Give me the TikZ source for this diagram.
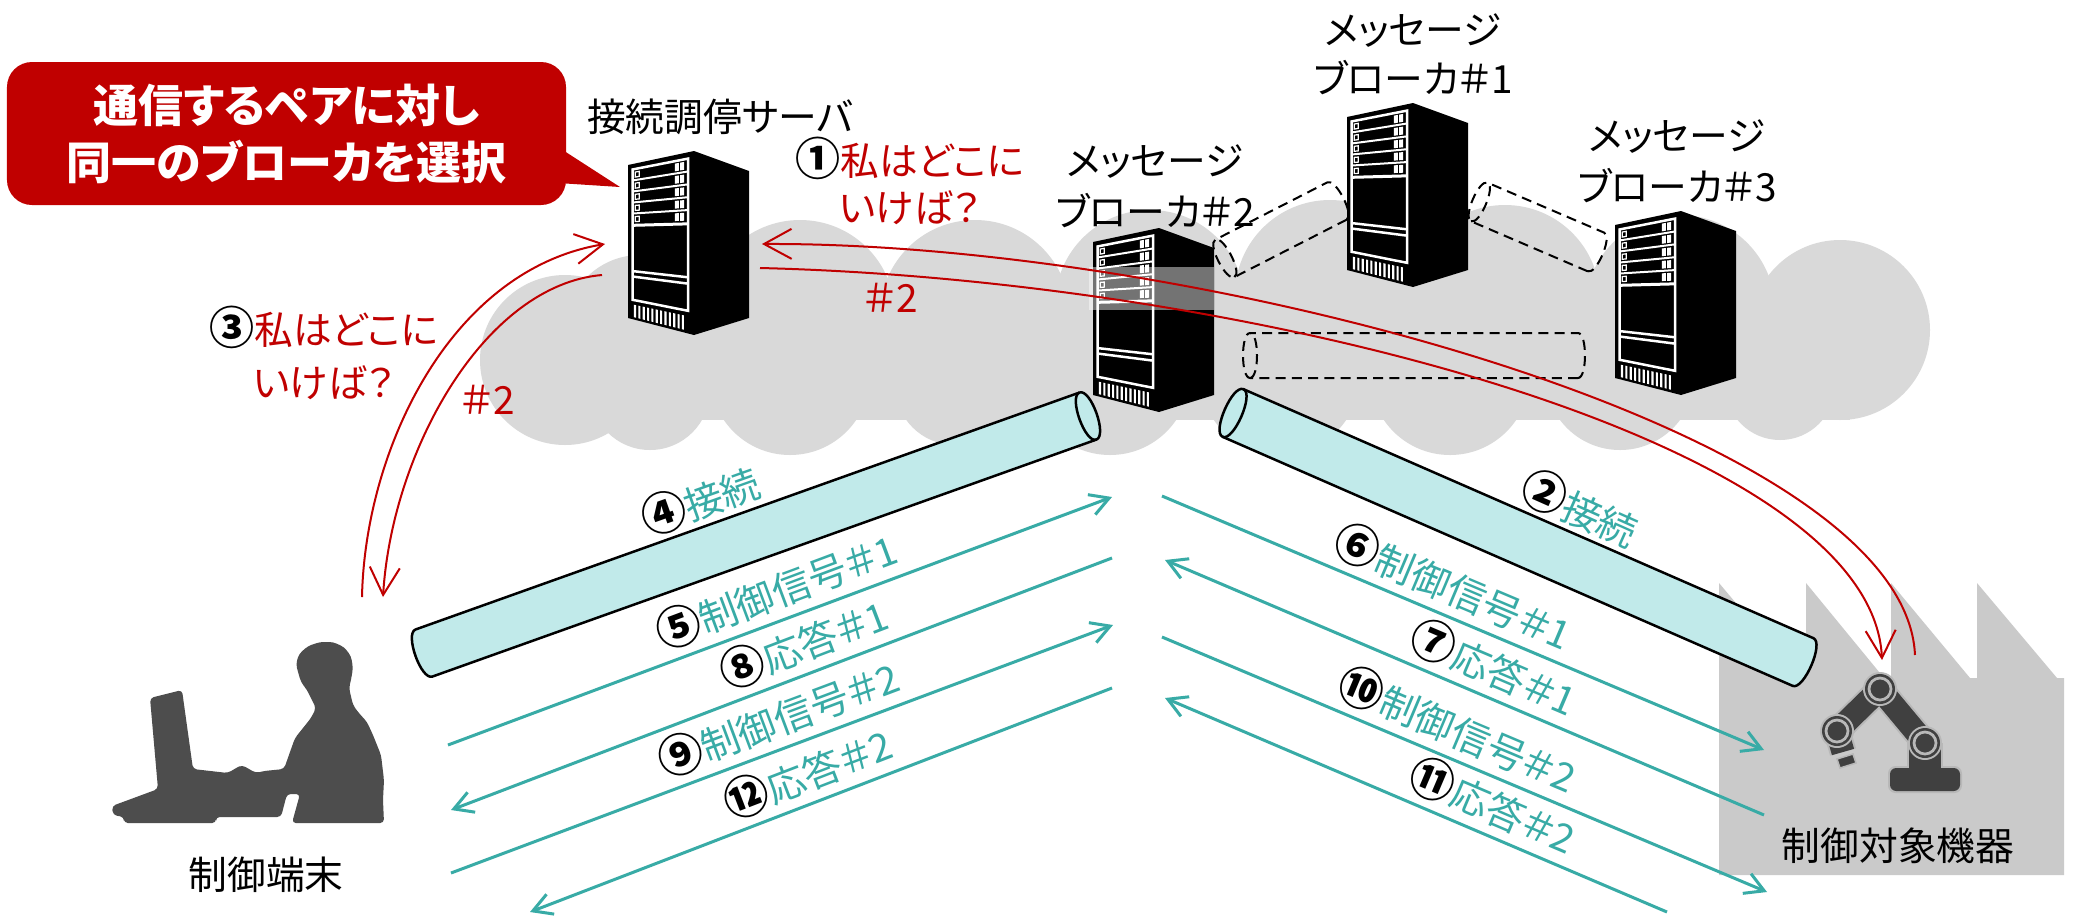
\documentclass[tikz,border=0pt]{standalone}
\usepackage{fontspec}
\setmainfont{Noto Sans CJK JP}[RawFeature=+palt]
\usetikzlibrary{arrows.meta,calc}

\definecolor{calloutred}{HTML}{C00000}
\definecolor{askred}{HTML}{C00000}
\definecolor{flowteal}{HTML}{38ABA6}
\definecolor{pipefill}{HTML}{C1EAEA}
\definecolor{cloudgray}{HTML}{D9D9D9}
\definecolor{plantgray}{HTML}{CACACA}
\definecolor{figuregray}{HTML}{4D4D4D}
\definecolor{robotdark}{HTML}{404040}
\definecolor{robotlight}{HTML}{B8B8B8}

% point on the (perspective) front panel of a rack: u across, v down
\newcommand\fp[2]{($($(ftl)!#2!(fbl)$)!#1!($(ftr)!#2!(fbr)$)$)}
\newcommand\fq[4]{\fp{#1}{#2} -- \fp{#3}{#2} -- \fp{#3}{#4} -- \fp{#1}{#4} -- cycle}
\newcommand\circno[1]{{\color{black}\bfseries\fontsize{18}{18}\selectfont #1}}

% rack server, given the top corner between front and side face
\newcommand\rackserver[2]{%
 \begin{scope}[shift={(#1,#2)}]
  \coordinate (ftl) at (-66,14);
  \coordinate (ftr) at (0,0);
  \coordinate (fbr) at (0,184);
  \coordinate (fbl) at (-66,167);
  \fill[black] (-66,14) -- (0,0) -- (55,20) -- (55,167) -- (0,184) -- (-66,167) -- cycle;
  \draw[white, line width=1pt] \fq{0.07}{0.035}{0.91}{0.875};
  \foreach \v in {0.106,0.177,0.248,0.319}{\draw[white, line width=0.8pt] \fp{0.07}{\v} -- \fp{0.91}{\v};}
  \draw[white, line width=1.2pt] \fp{0.07}{0.395} -- \fp{0.91}{0.395};
  \foreach \v in {0.035,0.106,0.177,0.248,0.319}{%
    \draw[white, line width=0.5pt] \fq{0.11}{\v+0.02}{0.17}{\v+0.052};
    \fill[white] \fq{0.71}{\v+0.014}{0.77}{\v+0.058};
    \fill[white] \fq{0.79}{\v+0.014}{0.85}{\v+0.058};
  }
  \draw[white, line width=1pt] \fp{0.07}{0.69} -- \fp{0.91}{0.69};
  \draw[white, line width=1pt] \fp{0.07}{0.725} -- \fp{0.91}{0.725};
  \foreach \i in {0,...,11}{\fill[white] \fq{0.09+0.066*\i}{0.905}{0.122+0.066*\i}{0.985};}
 \end{scope}}

% cylinder: start (x,y), angle, length, radius, cap radius; open end at the far side
\newcommand\pipe[6]{%
 \begin{scope}[shift={(#1,#2)},rotate=#3]
  \filldraw[pipe] (0,-#5) -- (#4,-#5) .. controls (#4+1.333*#6,-#5) and (#4+1.333*#6,#5) .. (#4,#5)
     -- (0,#5) .. controls (-1.333*#6,#5) and (-1.333*#6,-#5) .. (0,-#5) -- cycle;
  \draw[pipe, fill=none] (#4,-#5) .. controls (#4-1.333*#6,-#5) and (#4-1.333*#6,#5) .. (#4,#5);
 \end{scope}}

\newcommand\dashpipe[6]{%
 \begin{scope}[shift={(#1,#2)},rotate=#3]
  \draw[ghostpipe] (0,-#5) -- (#4,-#5) .. controls (#4+1.333*#6,-#5) and (#4+1.333*#6,#5) .. (#4,#5)
     -- (0,#5) .. controls (-1.333*#6,#5) and (-1.333*#6,-#5) .. (0,-#5) -- cycle;
  \draw[ghostpipe] (#4,-#5) .. controls (#4-1.333*#6,-#5) and (#4-1.333*#6,#5) .. (#4,#5);
 \end{scope}}

\begin{document}
\begin{tikzpicture}[x=0.4pt,y=-0.4pt,
  lbl/.style={font=\fontsize{15.5}{19}\selectfont, inner sep=0pt},
  redtxt/.style={lbl, text=askred},
  tealtxt/.style={lbl, text=flowteal},
  flow/.style={draw=flowteal, line width=1.2pt, -{Straight Barb[length=7.5pt,width=8.5pt]}},
  query/.style={draw=askred, line width=0.8pt, -{Straight Barb[length=11pt,width=12pt]}},
  pipe/.style={fill=pipefill, draw=black, line width=1pt},
  ghostpipe/.style={draw=black, line width=0.8pt, dash pattern=on 4pt off 2.5pt},
  arm/.style={line width=#1, line cap=butt}]
\useasboundingbox (0,0) rectangle (2074,915);
\fill[white] (0,0) rectangle (2074,915);

% ---------- network cloud ----------
\foreach \cx/\cy/\r in {565/360/85, 640/330/75, 800/315/95, 975/315/95, 1150/305/95,
    1330/295/95, 1505/300/95, 1680/310/95, 1840/330/90, 1780/385/55,
    1620/375/75, 1450/375/80, 1280/375/80, 1110/375/80, 955/385/60, 790/375/80, 650/390/60}
  {\fill[cloudgray] (\cx,\cy) circle[radius=\r];}
\fill[cloudgray] (580,320) rectangle (1850,420);

% ---------- factory ----------
\fill[plantgray] (1719,875) -- (1719,583) -- (1799,678) -- (1806,678) -- (1806,583)
  -- (1884,678) -- (1891,678) -- (1891,583) -- (1970,678) -- (1977,678) -- (1977,583)
  -- (2057,678) -- (2064,678) -- (2064,875) -- cycle;

% ---------- inter-broker links (dashed) ----------
\dashpipe{1337}{201}{207.1}{126}{21}{7}
\dashpipe{1596}{252}{156.8}{127}{21}{7}
\dashpipe{1578}{355.5}{180}{328}{22.5}{7}

% ---------- servers ----------
\rackserver{694}{151}
\rackserver{1159}{228}
\rackserver{1413}{103}
\rackserver{1681}{211}
\fill[white, opacity=0.45] (1089,267) rectangle (1214,310);

% ---------- connections (cylinders) ----------
\pipe{424}{653}{19.64}{705}{25}{9}
\pipe{1803}{662}{156.4}{622}{26}{9}

% ---------- robot arm ----------
\coordinate (j1) at (1837,731);
\coordinate (j2) at (1880,689);
\coordinate (j3) at (1925,743);
\coordinate (grip) at (1843,752);
\draw[robotlight, arm=10.8pt] (j2) -- (j3);
\draw[robotlight, arm=10.8pt] (j2) -- (j1);
\draw[robotlight, arm=10.8pt] (j1) -- (grip);
\fill[robotlight] (1907,743) rectangle (1943,768);
\fill[robotlight, rounded corners=3pt] (1888,766) rectangle (1962,793);
\draw[robotdark, arm=9.2pt] (j2) -- (j3);
\draw[robotdark, arm=9.2pt] (j2) -- (j1);
\draw[robotdark, arm=9.2pt] (j1) -- (grip);
\fill[robotdark] (1909,745) rectangle (1941,768);
\fill[robotdark, rounded corners=2.5pt] (1890,768) rectangle (1960,791);
\filldraw[fill=robotdark, draw=robotlight, line width=0.6pt] (1837,759) -- (1853,754) -- (1856,763) -- (1840,768) -- cycle;
\foreach \j in {j1,j2,j3}{
  \fill[robotlight] (\j) circle[radius=17];
  \fill[robotdark] (\j) circle[radius=15];
  \draw[robotlight, line width=1.1pt] (\j) circle[radius=11];
}

% ---------- operator at terminal ----------
\fill[figuregray, rounded corners=1.5pt] (112,806) -- (158,789) -- (150,698) -- (182,690) -- (193,769)
  -- (228,773) -- (236,768) -- (242,765) -- (249,769) -- (256,773) -- (264,771) -- (284,769)
  -- (290,752) -- (295,738) -- (303,728) -- (311,718) -- (316,708) -- (312,700) -- (307,690)
  -- (301,682) -- (298,672) -- (296,664) -- (299,654) -- (308,646) -- (320,642) -- (333,642)
  -- (344,647) -- (351,656) -- (353,668) -- (351,680) -- (349,688) -- (353,705) -- (358,712)
  -- (367,722) -- (373,735) -- (381,755) -- (384,780) -- (383,800) -- (384,823) -- (292,823)
  -- (300,794) -- (287,794) -- (281,817) -- (216,817) -- (216,823) -- (124,823) -- (124,817)
  -- (113,815) -- cycle;

% ---------- lookup requests to the mediation server ----------
\coordinate (qa0) at (1915,655);  \coordinate (qa1) at (762,244);
\coordinate (qb0) at (760,268);   \coordinate (qb1) at (1882,660);
\coordinate (qc0) at (362,597);   \coordinate (qc1) at (605,244);
\coordinate (qd0) at (602,275);   \coordinate (qd1) at (383,597);
\draw[query] (qa0) .. controls (1905,430) and (1200,242) .. (qa1);
\draw[query] (qb0) .. controls (1250,280) and (1872,440) .. (qb1);
\draw[query] (qc0) .. controls (365,450) and (450,270) .. (qc1);
\draw[query] (qd0) .. controls (485,285) and (392,450) .. (qd1);

% ---------- message flows ----------
\coordinate (fa0) at (448,745);   \coordinate (fa1) at (1112,497);
\coordinate (fb0) at (1112,558);  \coordinate (fb1) at (451,810);
\coordinate (fc0) at (451,873);   \coordinate (fc1) at (1113,625);
\coordinate (fd0) at (1112,688);  \coordinate (fd1) at (530,912);
\coordinate (fe0) at (1162,496);  \coordinate (fe1) at (1764,750);
\coordinate (ff0) at (1764,815);  \coordinate (ff1) at (1165,560);
\coordinate (fg0) at (1162,637);  \coordinate (fg1) at (1767,892);
\coordinate (fh0) at (1667,912);  \coordinate (fh1) at (1165,698);
\draw[flow] (fa0) -- node[tealtxt, sloped, above=3pt, pos=0.51] (m5) {\circno{⑤}制御信号＃1} (fa1);
\draw[flow] (fb0) -- node[tealtxt, sloped, above=3pt, pos=0.45] (m8) {\circno{⑧}応答＃1} (fb1);
\draw[flow] (fc0) -- node[tealtxt, sloped, above=3pt, pos=0.51] (m9) {\circno{⑨}制御信号＃2} (fc1);
\draw[flow] (fd0) -- node[tealtxt, sloped, above=3pt, pos=0.505] (m12) {\circno{⑫}応答＃2} (fd1);
\draw[flow] (fe0) -- node[tealtxt, sloped, above=3pt, pos=0.465] (m6) {\circno{⑥}制御信号＃1} (fe1);
\draw[flow] (ff0) -- node[tealtxt, sloped, above=3pt, pos=0.47] (m7) {\circno{⑦}応答＃1} (ff1);
\draw[flow] (fg0) -- node[tealtxt, sloped, above=3pt, pos=0.47] (m10) {\circno{⑩}制御信号＃2} (fg1);
\draw[flow] (fh0) -- node[tealtxt, sloped, above=3pt, pos=0.37] (m11) {\circno{⑪}応答＃2} (fh1);

\node[tealtxt, rotate=19.6] (m4) at (700,500) {\circno{④}接続};
\node[tealtxt, rotate=-24] (m2) at (1580,508) {\circno{②}接続};

% ---------- labels ----------
\node[lbl] (medlbl) at (720,117) {接続調停サーバ};
\node[lbl, align=center, font=\fontsize{15.5}{19.6}\selectfont] (b1lbl) at (1413,54) {メッセージ\\ブローカ＃1};
\node[lbl, align=center, font=\fontsize{15.5}{20.4}\selectfont] (b2lbl) at (1155,186) {メッセージ\\ブローカ＃2};
\node[lbl, align=center, font=\fontsize{15.5}{20.4}\selectfont] (b3lbl) at (1677,161) {メッセージ\\ブローカ＃3};
\node[lbl] (termlbl) at (266,875) {制御端末};
\node[lbl] (plantlbl) at (1898,846) {制御対象機器};

\node[redtxt, align=center, font=\fontsize{15.5}{18.8}\selectfont] (ask1) at (910,181) {\circno{①}私はどこに\\いけば？};
\node[redtxt, align=center, font=\fontsize{15.5}{21.2}\selectfont] (ask3) at (324,353) {\circno{③}私はどこに\\いけば？};
\node[redtxt] (ans1) at (891,298) {＃2};
\node[redtxt] (ans3) at (488,400) {＃2};

% ---------- callout ----------
\node[fill=calloutred, rounded corners=10pt, minimum width=223.6pt, minimum height=57.2pt,
      inner sep=0pt, text=white, align=center, font=\bfseries\fontsize{18}{22.8}\selectfont]
      (callout) at (286.5,133.5) {通信するペアに対し\\同一のブローカを選択};
\fill[calloutred] (558,147) -- (620,187) -- (558,183) -- cycle;
\end{tikzpicture}
\end{document}
